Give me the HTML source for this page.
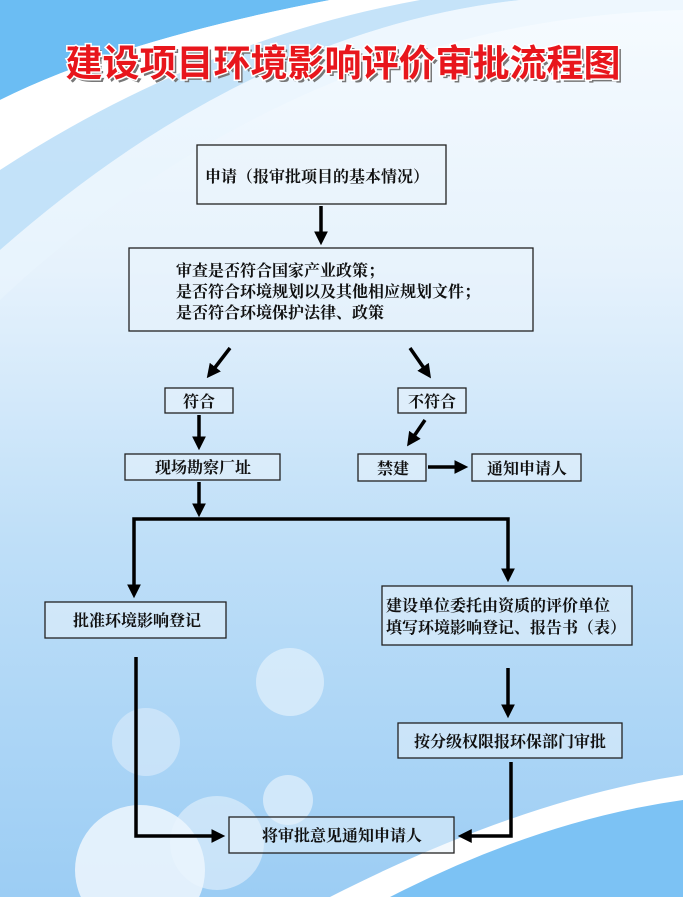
<!DOCTYPE html>
<html><head><meta charset="utf-8"><style>
html,body{margin:0;padding:0;width:683px;height:897px;overflow:hidden}
svg{display:block}
text{font-family:"Liberation Serif","Noto Serif CJK SC",serif;font-size:16px;fill:#111;font-weight:bold}
</style></head><body>
<svg width="683" height="897" viewBox="0 0 683 897" xmlns="http://www.w3.org/2000/svg">
<defs>
<linearGradient id="bg" x1="0" y1="0" x2="0" y2="1">
<stop offset="0" stop-color="#f6fbff"/><stop offset="0.3" stop-color="#e6f2fc"/><stop offset="0.6" stop-color="#bfdff8"/><stop offset="1" stop-color="#9ccdf4"/>
</linearGradient>
<marker id="ah" markerWidth="4" markerHeight="4" refX="2.5" refY="2" orient="auto" markerUnits="strokeWidth"><path d="M0,0 L4,2 L0,4 z" fill="#000"/></marker>
</defs>
<rect width="683" height="897" fill="url(#bg)"/>
<path d="M0,0 H330 Q120,40 0,100 Z" fill="#6bbdf3"/>
<path d="M0,100 Q120,40 330,0 H420 Q200,40 0,170 Z" fill="#ffffff"/>
<path d="M0,170 Q200,40 420,0 H520 Q250,30 0,250 Z" fill="#b9ddf7" opacity="0.8"/>
<path d="M0,250 Q250,30 520,0 H683 V10 Q300,20 0,300 Z" fill="#eaf5fd" opacity="0.6"/>
<circle cx="290" cy="682" r="34" fill="#dcedfb" opacity="0.8"/>
<circle cx="146" cy="742" r="34" fill="#cfe6fa" opacity="0.8"/>
<circle cx="288" cy="800" r="25" fill="#dcedfb" opacity="0.8"/>
<circle cx="217" cy="843" r="47" fill="#dcedfb" opacity="0.7"/>
<circle cx="140" cy="870" r="65" fill="#eaf4fd" opacity="0.9"/>
<path d="M330,897 Q520,800 683,775 V897 Z" fill="#ffffff"/>
<path d="M390,897 Q540,820 683,800 V897 Z" fill="#7cc2f4"/>
<g text-anchor="middle">
<text x="346" y="79" style="font-family:'Liberation Sans','Noto Sans CJK SC',sans-serif;font-size:37px;fill:#777">建设项目环境影响评价审批流程图</text>
<text x="343" y="76" style="font-family:'Liberation Sans','Noto Sans CJK SC',sans-serif;font-size:37px;fill:#e8161c;stroke:#fff;stroke-width:3;paint-order:stroke">建设项目环境影响评价审批流程图</text>
</g>
<g fill="#eaf4fc" fill-opacity="0.5" stroke="#222" stroke-width="1.3">
<rect x="197" y="145" width="249" height="59"/>
<rect x="129" y="248" width="404" height="83"/>
<rect x="165" y="388" width="68" height="25"/>
<rect x="398" y="388" width="68" height="25"/>
<rect x="125" y="454" width="155" height="26"/>
<rect x="358" y="454" width="68" height="27"/>
<rect x="472" y="454" width="109" height="27"/>
<rect x="45" y="602" width="181" height="36"/>
<rect x="382" y="586" width="250" height="59"/>
<rect x="398" y="723" width="224" height="35"/>
<rect x="229" y="817" width="225" height="36"/>
</g>
<g stroke="#000" stroke-width="3.5" fill="none" marker-end="url(#ah)">
<line x1="321" y1="206" x2="321" y2="240"/>
<line x1="230" y1="348" x2="210" y2="374"/>
<line x1="410" y1="348" x2="428" y2="374"/>
<line x1="199" y1="415" x2="199" y2="445"/>
<line x1="425" y1="420" x2="410" y2="442"/>
<line x1="428" y1="467" x2="463" y2="467"/>
<line x1="199" y1="482" x2="199" y2="512"/>
<polyline points="199,519 134,519 134,593"/>
<polyline points="199,519 508,519 508,577"/>
<line x1="508" y1="668" x2="508" y2="713"/>
<polyline points="136,657 136,836 220,836"/>
<polyline points="511,762 511,836 463,836"/>
</g>
<text x="205" y="182">申请（报审批项目的基本情况）</text>
<text x="176" y="276">审查是否符合国家产业政策；</text>
<text x="176" y="297">是否符合环境规划以及其他相应规划文件；</text>
<text x="176" y="318">是否符合环境保护法律、政策</text>
<text x="199" y="407" text-anchor="middle">符合</text>
<text x="432" y="407" text-anchor="middle">不符合</text>
<text x="203" y="473" text-anchor="middle">现场勘察厂址</text>
<text x="393" y="474" text-anchor="middle">禁建</text>
<text x="527" y="474" text-anchor="middle">通知申请人</text>
<text x="137" y="626" text-anchor="middle">批准环境影响登记</text>
<text x="386" y="611">建设单位委托由资质的评价单位</text>
<text x="386" y="633">填写环境影响登记、报告书（表）</text>
<text x="510" y="747" text-anchor="middle">按分级权限报环保部门审批</text>
<text x="342" y="841" text-anchor="middle">将审批意见通知申请人</text>
</svg>
</body></html>
